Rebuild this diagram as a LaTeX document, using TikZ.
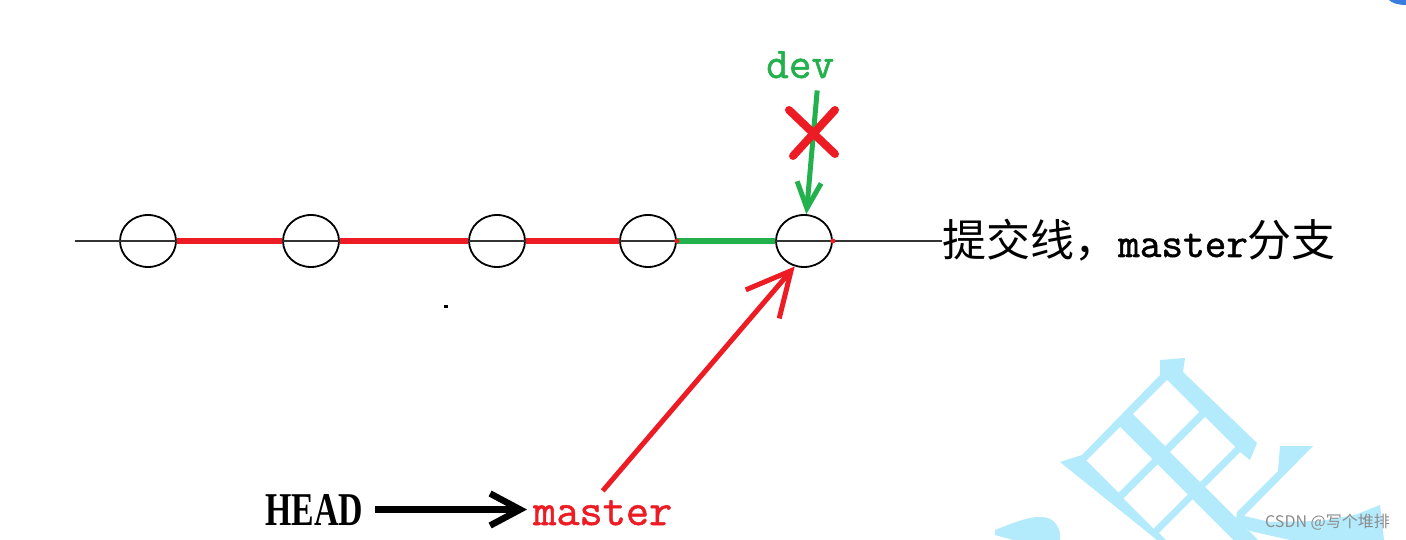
\documentclass[tikz,border=0pt]{standalone}
\usepackage{fontspec}
\newfontfamily\cjk{Noto Sans CJK SC}
\newfontfamily\headfont{Liberation Serif}[FakeStretch=0.72]
\newfontfamily\pmono{Latin Modern Mono}[FakeBold=1.2]
\usetikzlibrary{shapes.geometric,arrows.meta,calc}
\definecolor{pred}{HTML}{ED1C24}
\definecolor{pgreen}{HTML}{22B14C}
\definecolor{wmblue}{HTML}{B3EBFD}
\definecolor{cornerblue}{HTML}{3A7BE0}
\definecolor{wmgray}{HTML}{8C8C8C}
\begin{document}
\begin{tikzpicture}[x=1pt,y=-1pt,
  commit/.style={draw=black, line width=1.8pt, ellipse, minimum width=56pt, minimum height=52pt, inner sep=0pt},
  axis/.style={draw=black!80, line width=1.8pt},
  redseg/.style={draw=pred, line width=5.5pt},
  greenseg/.style={draw=pgreen, line width=5.5pt},
  devarrow/.style={draw=pgreen, line width=5pt, -{Straight Barb[length=26pt,width=24pt]}},
  masterarrow/.style={draw=pred, line width=5pt, -{Straight Barb[length=44pt,width=44pt]}},
  headarrow/.style={draw=black, line width=6.5pt, -{Straight Barb[length=30pt,width=32pt]}},
  wm/.style={fill=wmblue, draw=none},
  txt/.style={anchor=base west, inner sep=0pt}]
\useasboundingbox[fill=white] (0,0) rectangle (1406,540);

% watermark (background)
\fill[wm] (1160,360) -- (1185,358) -- (1183,372) -- (1257,443) -- (1250,460) -- (1240,452)
  -- (1205,487) -- (1258,540) -- (1157,540) -- (1060,462) -- (1082,455) -- (1160,375) -- cycle;
\fill[white] (1167,380) -- (1199,412) -- (1165,446) -- (1133,414) -- cycle;
\fill[white] (1205,417) -- (1235,447) -- (1200,482) -- (1170,452) -- cycle;
\fill[white] (1120,427) -- (1152,459) -- (1118.5,492.5) -- (1086.5,460.5) -- cycle;
\fill[white] (1157.5,464.5) -- (1187.5,494.5) -- (1153.5,528.5) -- (1123.5,498.5) -- cycle;
\fill[white] (1192.5,499.5) -- (1159,533) -- (1166,540) -- (1233,540) -- cycle;
\fill[wm] (1280,446) -- (1313,446) -- (1244,516) -- (1270,522) -- (1320,521) -- (1355,515)
  -- (1375,507) -- (1380,505) -- (1384,540) -- (1290,540) -- (1250,531) -- (1236,520)
  -- (1237,512) -- (1278,471) -- cycle;
\fill[wm] (995,530) .. controls (1015,522) and (1035,514) .. (1048,518)
  .. controls (1058,522) and (1061,532) .. (1060,540) -- (1013,540) -- (995,535) -- cycle;
\fill[cornerblue] (1389,0) -- (1406,0) -- (1406,5) .. controls (1398,5) and (1392,3) .. cycle;

% commits
\node[commit] (c1) at (148,241) {};
\node[commit] (c2) at (311,241) {};
\node[commit] (c3) at (497,241) {};
\node[commit] (c4) at (648,241) {};
\node[commit] (c5) at (804,241) {};

% texts
\node[txt, font=\fontsize{44}{50}\selectfont] (label) at (942,257)
  {\cjk 提交线，{\pmono\fontsize{42}{46}\selectfont master}分支};
\node[txt, text=pgreen, font=\pmono\fontsize{44}{50}\selectfont] (dev) at (766,78) {dev};
\node[txt, font=\headfont\bfseries\fontsize{47}{52}\selectfont] (head) at (265,525) {HEAD};
\node[txt, text=pred, font=\pmono\fontsize{45}{50}\selectfont] (master) at (533,525) {master};
\node[anchor=base east, inner sep=0pt, text=wmgray, font=\cjk\fontsize{16}{18}\selectfont] (csdn) at (1390,527) {CSDN @写个堆排};

% commit line
\coordinate (axl) at (75,241);
\draw[axis] (axl) -- (label.west |- c1.center);
\draw[redseg] (c1.east) -- (c2.west);
\draw[redseg] (c2.east) -- (c3.west);
\draw[redseg] (c3.east) -- (c4.west);
\draw[greenseg] (c4.east) -- (c5.west);
\fill[pred] (c4.east) circle (2.5) (c5.east) circle (2.5);

% pointers
\draw[devarrow] ([xshift=17pt,yshift=-12pt]dev.south) -- (c5.85);
\draw[pred, line width=8pt, line cap=round] (789,110) -- (835,154) (835,110) -- (793,156);
\draw[masterarrow] ([yshift=9pt]master.north) -- (c5.250);
\draw[headarrow] ([xshift=12pt]head.east) -- ([xshift=-6pt]master.west |- head.east);

% stray dot
\fill[black] (444,305) rectangle (448,308);
\end{tikzpicture}
\end{document}
